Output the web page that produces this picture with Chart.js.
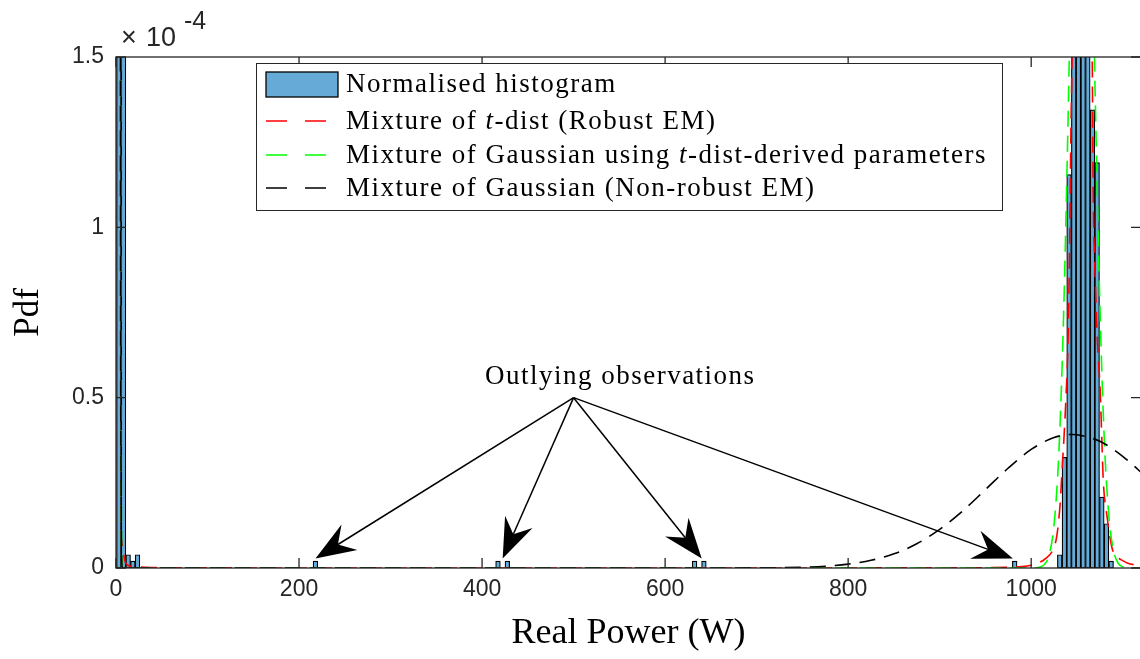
<!DOCTYPE html>
<html>
<head>
<meta charset="utf-8">
<script src="https://cdn.jsdelivr.net/npm/chart.js@4.4.1/dist/chart.umd.min.js"></script>
<style>
  html, body { margin: 0; padding: 0; background: #fff; overflow: hidden; }
  #wrap { width: 1144px; height: 659px; }
</style>
</head>
<body>
<div id="wrap"><canvas id="pdfChart" width="1144" height="659"></canvas></div>
<script>
// normalised histogram: bin centres (W) and heights (x1e-4)
const binCentres = [3.1, 8.2, 13.3, 18.4, 23.5, 217.9, 417.4, 427.6, 632.2, 642.4, 982.0,
    1031.2, 1036.3, 1041.4, 1046.5, 1051.6, 1056.8, 1061.9, 1067.0, 1072.1, 1077.2, 1082.3, 1087.4];
const binHeights = [1200, 740, 0.039, 0.02, 0.039, 0.02, 0.02, 0.02, 0.02, 0.02, 0.02,
    0.039, 0.325, 1.155, 2.4, 3.6, 3.8, 2.6, 1.345, 1.19, 0.208, 0.13, 0.02];

// mixture of t-dist (robust EM)
const tDistX = [0, 2, 4, 5, 5.3, 5.8, 7.6, 8.5, 10, 13, 20, 40, 100, 300, 600, 800, 900, 950, 980, 990,
    1000, 1006, 1013, 1020, 1024, 1028, 1031.7, 1033.6, 1036, 1038, 1040.4, 1042.6, 1043.5, 1044.7,
    1048, 1052, 1055.7, 1059.5, 1063.5, 1066.7, 1067.8, 1070, 1072.1, 1075.4, 1077.3, 1078.7, 1082.7,
    1088.2, 1093, 1099, 1105, 1113.7, 1125];
const tDistY = [2000, 900, 12, 1.6, 0.2, 0.085, 0.06, 0.04, 0.018, 0.008, 0.004, 0.0015, 0.0004, 0.0001, 0.0001, 0.0002, 0.0005, 0.001, 0.0025, 0.004,
    0.008, 0.013, 0.022, 0.038, 0.055, 0.094, 0.19, 0.28, 0.39, 0.5, 0.68, 1.08, 1.3, 1.5,
    2.4, 3.0, 3.2, 3.0, 2.4, 1.5, 1.1, 0.85, 0.68, 0.52, 0.37, 0.26, 0.155,
    0.06, 0.035, 0.023, 0.015, 0.009, 0.006];

// mixture of Gaussian using t-dist-derived parameters
const gaussTX = [0, 2, 4, 5, 5.5, 6, 7, 10, 1000, 1005, 1010, 1015, 1020, 1025, 1030, 1035, 1040, 1045,
    1050, 1055, 1060, 1065, 1070, 1075, 1080, 1085, 1090, 1095, 1100, 1105, 1110, 1120];
const gaussTY = [3000, 1000, 27, 1.8, 0.4, 0.07, 0.002, 0, 0, 0.0006, 0.0028, 0.012, 0.042, 0.127, 0.324, 0.70, 1.275, 1.97,
    2.57, 2.83, 2.64, 2.08, 1.38, 0.78, 0.37, 0.149, 0.051, 0.0146, 0.0036, 0.0007, 0.0001, 0];

// mixture of Gaussian (non-robust EM)
const gaussX = [0, 2, 4, 5, 5.5, 6, 7, 10, 600, 700, 750, 775, 800, 825, 850, 875, 900, 925, 950, 975,
    1000, 1025, 1045, 1050, 1075, 1100, 1125];
const gaussY = [3000, 1000, 20, 1.2, 0.3, 0.05, 0.001, 0, 0, 0.0003, 0.0023, 0.0053, 0.0113, 0.0225, 0.0415, 0.0711, 0.1132, 0.167, 0.230, 0.2935,
    0.348, 0.383, 0.392, 0.391, 0.372, 0.328, 0.269];

// annotation: arrows start at one point and end at the outlying bins
const arrowFrom = [500, 0.5];
const arrowTo = [[218, 0.028], [422.5, 0.028], [640, 0.028], [980, 0.028]];
const noteText = 'Outlying observations';
const notePos = [551, 0.56];

const xTicks = [0, 200, 400, 600, 800, 1000];

function pts(xs, ys) {
    return xs.map((v, i) => ({ x: v, y: ys[i] }));
}

// draws text with the 't' of 't-dist' in italics
function drawRich(ctx, text, x, y, size) {
    const parts = text.split(/\b(t)(?=-dist)/);
    let cx = x;
    parts.forEach((p, i) => {
        ctx.font = (i % 2 ? 'italic ' : '') + size + 'px "Liberation Serif"';
        ctx.fillText(p, cx, y);
        cx += ctx.measureText(p).width;
    });
}

const framePlugin = {
    id: 'frame',
    afterDatasetsDraw(chart) {
        const { ctx, chartArea: a, scales: { x, y } } = chart;
        ctx.save();

        // axes box and inward ticks
        ctx.strokeStyle = '#262626';
        ctx.lineWidth = 1.3;
        ctx.strokeRect(a.left, a.top, a.right - a.left, a.bottom - a.top);
        const tl = 10;
        ctx.beginPath();
        x.ticks.forEach(t => {
            const px = x.getPixelForValue(t.value);
            ctx.moveTo(px, a.bottom); ctx.lineTo(px, a.bottom - tl);
            ctx.moveTo(px, a.top); ctx.lineTo(px, a.top + tl);
        });
        y.ticks.forEach(t => {
            const py = y.getPixelForValue(t.value);
            ctx.moveTo(a.left, py); ctx.lineTo(a.left + tl, py);
            ctx.moveTo(a.right, py); ctx.lineTo(a.right - tl, py);
        });
        ctx.stroke();

        // exponent label
        ctx.fillStyle = '#262626';
        ctx.textBaseline = 'alphabetic';
        ctx.font = '27px "Liberation Sans"';
        ctx.fillText('\u00d7', a.left + 5, a.top - 11);
        ctx.fillText('10', a.left + 30, a.top - 11);
        const w10 = ctx.measureText('10').width;
        ctx.font = '25px "Liberation Sans"';
        ctx.fillText('-4', a.left + 30 + w10 + 8, a.top - 28);

        // arrows
        const sx = x.getPixelForValue(arrowFrom[0]);
        const sy = y.getPixelForValue(arrowFrom[1]);
        ctx.strokeStyle = '#000';
        ctx.fillStyle = '#000';
        ctx.lineWidth = 1.5;
        arrowTo.forEach(p => {
            const tx = x.getPixelForValue(p[0]);
            const ty = y.getPixelForValue(p[1]);
            const len = Math.hypot(tx - sx, ty - sy);
            const ux = (tx - sx) / len, uy = (ty - sy) / len;
            const nx = -uy, ny = ux;
            const L = 40, hw = 15, notch = 0.66 * L;
            ctx.beginPath();
            ctx.moveTo(sx, sy);
            ctx.lineTo(tx - notch * ux, ty - notch * uy);
            ctx.stroke();
            ctx.beginPath();
            ctx.moveTo(tx, ty);
            ctx.lineTo(tx - L * ux + hw * nx, ty - L * uy + hw * ny);
            ctx.lineTo(tx - notch * ux, ty - notch * uy);
            ctx.lineTo(tx - L * ux - hw * nx, ty - L * uy - hw * ny);
            ctx.closePath();
            ctx.fill();
        });

        // note text
        ctx.letterSpacing = '1.5px';
        ctx.font = '27px "Liberation Serif"';
        ctx.textAlign = 'center';
        ctx.textBaseline = 'middle';
        ctx.fillText(noteText, x.getPixelForValue(notePos[0]), y.getPixelForValue(notePos[1]));

        // legend
        const lx = a.left + 140, ly = a.top + 6, lw = 746, lh = 147;
        ctx.fillStyle = '#fff';
        ctx.fillRect(lx, ly, lw, lh);
        ctx.strokeStyle = '#262626';
        ctx.lineWidth = 1;
        ctx.strokeRect(lx + 0.5, ly + 0.5, lw, lh);
        ctx.textAlign = 'left';
        const rows = [21, 58, 92, 125];
        chart.data.datasets.forEach((ds, i) => {
            const cy = ly + rows[i];
            if (ds.type === 'bar') {
                ctx.fillStyle = ds.backgroundColor;
                ctx.fillRect(lx + 10, cy - 12, 72, 25);
                ctx.strokeStyle = '#000';
                ctx.lineWidth = 1.3;
                ctx.strokeRect(lx + 10, cy - 12, 72, 25);
            } else {
                ctx.strokeStyle = ds.borderColor;
                ctx.lineWidth = ds.borderWidth;
                ctx.setLineDash([21, 18]);
                ctx.beginPath();
                ctx.moveTo(lx + 10, cy);
                ctx.lineTo(lx + 82, cy);
                ctx.stroke();
                ctx.setLineDash([]);
            }
            ctx.fillStyle = '#000';
            drawRich(ctx, ds.label, lx + 90, cy + 1, 27);
        });
        ctx.restore();
    }
};

const ctx = document.getElementById('pdfChart').getContext('2d');
new Chart(ctx, {
    type: 'bar',
    data: {
        datasets: [{
            type: 'bar',
            label: 'Normalised histogram',
            data: pts(binCentres, binHeights),
            backgroundColor: 'rgb(102,170,215)',
            borderColor: '#000',
            borderWidth: 1.2,
            borderSkipped: false,
            barPercentage: 1,
            categoryPercentage: 1,
            order: 4
        }, {
            type: 'line',
            label: 'Mixture of t-dist (Robust EM)',
            data: pts(tDistX, tDistY),
            borderColor: '#ff0000',
            borderWidth: 1.6,
            borderDash: [16, 9],
            pointRadius: 0,
            cubicInterpolationMode: 'monotone',
            order: 3
        }, {
            type: 'line',
            label: 'Mixture of Gaussian using t-dist-derived parameters',
            data: pts(gaussTX, gaussTY),
            borderColor: '#00ff00',
            borderWidth: 1.6,
            borderDash: [16, 9],
            pointRadius: 0,
            cubicInterpolationMode: 'monotone',
            order: 2
        }, {
            type: 'line',
            label: 'Mixture of Gaussian (Non-robust EM)',
            data: pts(gaussX, gaussY),
            borderColor: '#000000',
            borderWidth: 1.6,
            borderDash: [16, 9],
            pointRadius: 0,
            cubicInterpolationMode: 'monotone',
            order: 1
        }]
    },
    options: {
        responsive: false,
        animation: false,
        layout: { padding: { top: 57, right: 3, left: 0, bottom: 0 } },
        plugins: { legend: { display: false }, tooltip: { enabled: false } },
        scales: {
            x: {
                type: 'linear',
                min: 0,
                max: 1120,
                offset: false,
                grid: { display: false, drawTicks: false },
                border: { display: false },
                afterBuildTicks: s => { s.ticks = xTicks.map(v => ({ value: v })); },
                afterFit: s => { s.height = 91; },
                ticks: {
                    color: '#262626',
                    font: { family: 'Liberation Sans', size: 23 },
                    padding: 8,
                    maxRotation: 0,
                    callback: v => String(v)
                },
                title: {
                    display: true,
                    text: 'Real Power (W)',
                    color: '#000',
                    font: { family: 'Liberation Serif', size: 36 },
                    padding: 4
                }
            },
            y: {
                min: 0,
                max: 1.5,
                grid: { display: false, drawTicks: false },
                border: { display: false },
                afterFit: s => { s.width = 116; },
                ticks: {
                    stepSize: 0.5,
                    color: '#262626',
                    font: { family: 'Liberation Sans', size: 23 },
                    padding: 12,
                    callback: v => String(v)
                },
                title: {
                    display: true,
                    text: 'Pdf',
                    color: '#000',
                    font: { family: 'Liberation Serif', size: 35 },
                    padding: 8
                }
            }
        }
    },
    plugins: [framePlugin]
});
</script>
</body>
</html>
